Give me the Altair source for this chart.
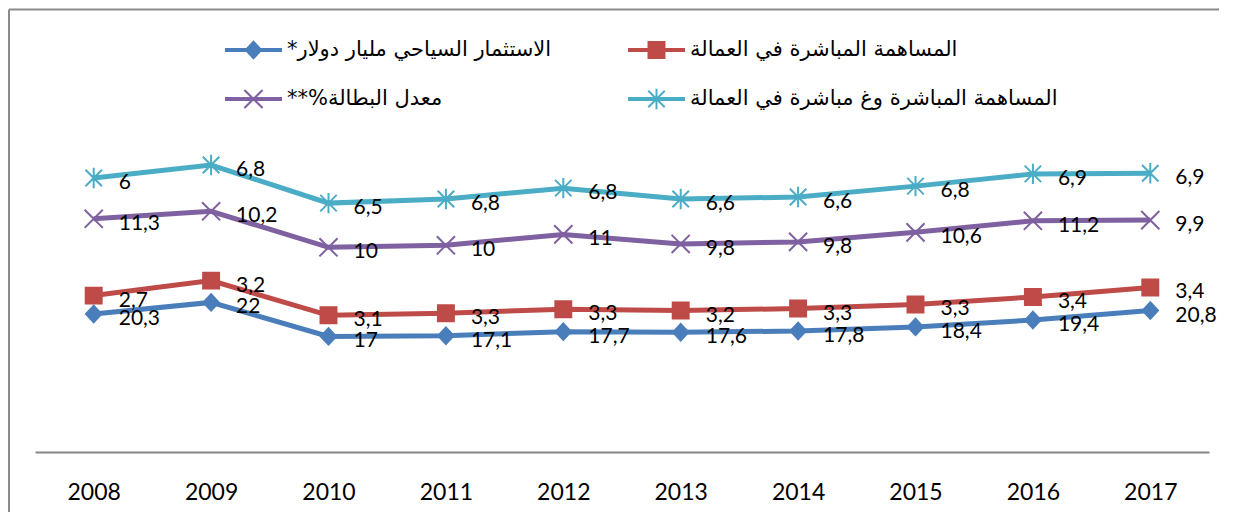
import altair as alt
import pandas as pd

years = ["2008", "2009", "2010", "2011", "2012", "2013", "2014", "2015", "2016", "2017"]
names = [
    "الاستثمار السياحي مليار دولار*\u200f",
    "المساهمة المباشرة في العمالة",
    "معدل البطالة%**\u200f",
    "المساهمة المباشرة وغ مباشرة في العمالة",
]
investment = [20.3, 22, 17, 17.1, 17.7, 17.6, 17.8, 18.4, 19.4, 20.8]
direct = [2.7, 3.2, 3.1, 3.3, 3.3, 3.2, 3.3, 3.3, 3.4, 3.4]
unemployment = [11.3, 10.2, 10, 10, 11, 9.8, 9.8, 10.6, 11.2, 9.9]
total_emp = [6, 6.8, 6.5, 6.8, 6.8, 6.6, 6.6, 6.8, 6.9, 6.9]
series_values = [investment, direct, unemployment, total_emp]
colors = ["#4A7EBB", "#BE4B48", "#7F60A0", "#4BACC6"]

# marker shapes (unit = 27.5 px at size 3025)
marker_paths = [
    "M-0.28,0L0,-0.3L0.28,0L0,0.3Z",
    "M-0.29,-0.29H0.29V0.29H-0.29Z",
    "M-0.33,-0.33L0.33,0.33M-0.33,0.33L0.33,-0.33",
    "M-0.3,-0.3L0.3,0.3M-0.3,0.3L0.3,-0.3M0,-0.37V0.37",
]
line_bar = "M-1,-0.04H1V0.04H-1Z"
legend_paths = [line_bar + p for p in marker_paths]

rows = []
for i, (name, vals) in enumerate(zip(names, series_values)):
    for y, v in zip(years, vals):
        rows.append({"series": name, "order": i, "year": y, "value": v})
df = pd.DataFrame(rows)

leg = alt.Legend(
    title=None, orient="none", legendX=190, legendY=-86.5, columns=2, direction="horizontal",
    columnPadding=76, rowPadding=0, clipHeight=49, symbolSize=3025, symbolStrokeWidth=2,
    labelFont="DejaVu Sans", labelFontSize=21, labelColor="black",
    labelOffset=5, labelLimit=700, padding=0, symbolOpacity=1,
)

x = alt.X(
    "year:O",
    scale=alt.Scale(type="point", padding=0.5),
    axis=alt.Axis(
        title=None, labelAngle=0, ticks=False, domainColor="#868686", domainWidth=2,
        labelFont="Lato", labelFontSize=23, labelColor="black", labelPadding=29, grid=False,
    ),
)
y = alt.Y("y1:Q", scale=alt.Scale(domain=[0, 50], nice=False), axis=None)

base = alt.Chart(df).transform_stack(
    stack="value", groupby=["year"], sort=[alt.SortField("order")], as_=["y0", "y1"]
).transform_calculate(label="replace(toString(datum.value), '.', ',')")

lines = base.mark_line(strokeWidth=5).encode(
    x=x, y=y,
    color=alt.Color("series:N", scale=alt.Scale(domain=names, range=colors), legend=None),
)
points = base.mark_point(filled=True, size=3025, strokeWidth=2, opacity=1).encode(
    x=x, y=y,
    fill=alt.Fill("series:N", scale=alt.Scale(domain=names, range=colors), legend=None),
    stroke=alt.Stroke("series:N", scale=alt.Scale(domain=names, range=colors), legend=None),
    shape=alt.Shape("series:N", scale=alt.Scale(domain=names, range=marker_paths), legend=None),
)
legend_layer = base.transform_filter("false").mark_point(
    filled=True, size=3025, strokeWidth=2, opacity=1
).encode(
    x=x, y=y,
    fill=alt.Fill("series:N", scale=alt.Scale(domain=names, range=colors), legend=leg),
    stroke=alt.Stroke("series:N", scale=alt.Scale(domain=names, range=colors), legend=leg),
    shape=alt.Shape("series:N", scale=alt.Scale(domain=names, range=legend_paths), legend=leg),
)
texts = base.mark_text(
    align="left", baseline="middle", dx=25, dy=5, font="Lato", fontSize=21, color="black"
).encode(x=x, y=y, text="label:N")

frame_df = pd.DataFrame({"k": [0]})
top_rule = alt.Chart(frame_df).mark_rule(color="#8a8a8a", strokeWidth=2).encode(
    x=alt.value(-26), x2=alt.value(1184), y=alt.value(-102.5), y2=alt.value(-102.5)
)
left_rule = alt.Chart(frame_df).mark_rule(color="#8a8a8a", strokeWidth=2).encode(
    x=alt.value(-26), x2=alt.value(-26), y=alt.value(-102.5), y2=alt.value(400)
)

chart = alt.layer(top_rule, left_rule, lines, points, legend_layer, texts).resolve_scale(
    fill="independent", stroke="independent", shape="independent"
).resolve_legend(
    fill="independent", stroke="independent", shape="independent"
).properties(
    width=1174,
    height=340,
    autosize=alt.AutoSizeParams(type="none"),
    padding={"left": 27, "top": 104, "right": 10, "bottom": 60},
    background="white",
).configure_view(stroke=None)

chart.save("out.html", embed_options={"renderer": "svg", "actions": False})
